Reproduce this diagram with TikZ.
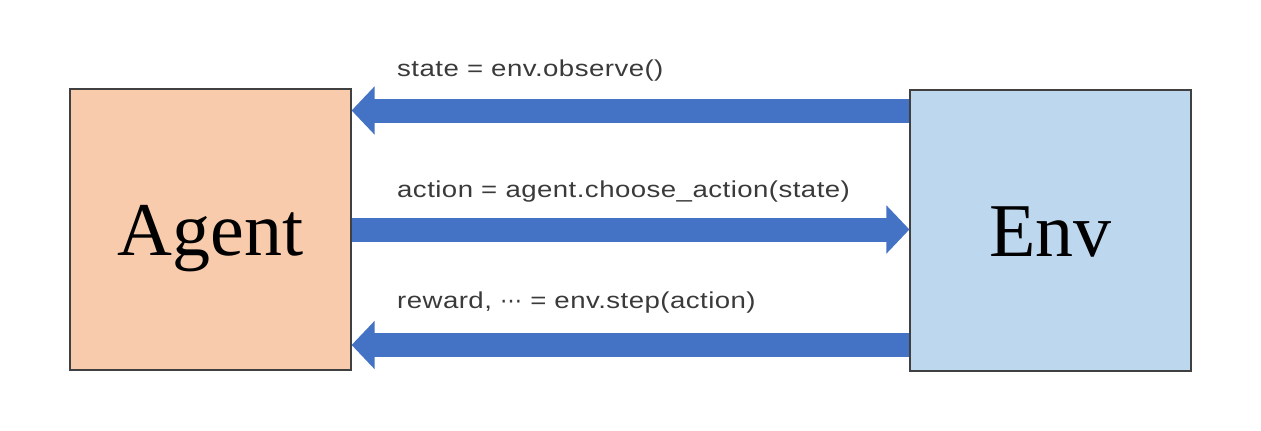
\documentclass[tikz,border=0pt]{standalone}
\usepackage{fontspec}
\setmainfont{Liberation Serif}
\newfontfamily\labfont[FakeStretch=1.2,LetterSpace=2]{Liberation Sans}
\newfontfamily\dotsfont{DejaVu Sans}
\usetikzlibrary{arrows.meta}
\definecolor{agentfill}{HTML}{F8CBAD}
\definecolor{envfill}{HTML}{BDD7EE}
\definecolor{boxline}{HTML}{404040}
\definecolor{arrowblue}{HTML}{4472C4}
\definecolor{labtext}{HTML}{3A3A3A}
\tikzset{
  box/.style={draw=boxline, line width=1.2pt, minimum width=281pt, minimum height=281pt, inner sep=0pt},
  bigarrow/.style={draw=arrowblue, line width=24pt, line cap=butt, -{Triangle[length=23pt,width=47pt]}},
  lab/.style={anchor=base west, inner sep=0pt, text=labtext, font=\labfont\fontsize{23}{27}\selectfont},
  bigtext/.style={anchor=base, inner sep=0pt, font=\fontsize{76}{80}\selectfont}
}
\begin{document}
\begin{tikzpicture}[x=1pt,y=-1pt]
\useasboundingbox (0,0) rectangle (1261,431);
\node[box, fill=agentfill] (agent) at (210.5,229.5) {};
\node[box, fill=envfill] (env) at (1050.5,230.5) {};
\node[bigtext] (agentlab) at (210.5,255) {Agent};
\node[bigtext] (envlab) at (1050.5,256) {Env};
\coordinate (a1) at (agent.east |- 0,110.5);
\coordinate (e1) at (env.west |- 0,110.5);
\coordinate (a2) at (agent.east |- 0,229.5);
\coordinate (e2) at (env.west |- 0,229.5);
\coordinate (a3) at (agent.east |- 0,345);
\coordinate (e3) at (env.west |- 0,345);
\draw[bigarrow] (e1) -- (a1);
\draw[bigarrow] (a2) -- (e2);
\draw[bigarrow] (e3) -- (a3);
\node[lab] (l1) at (397,76) {state = env.observe()};
\node[lab] (l2) at (397,197) {action = agent.choose\_action(state)};
\node[lab] (l3) at (397,308) {reward, {\dotsfont\fontsize{22}{24}\selectfont ⋯} = env.step(action)};
\end{tikzpicture}
\end{document}
